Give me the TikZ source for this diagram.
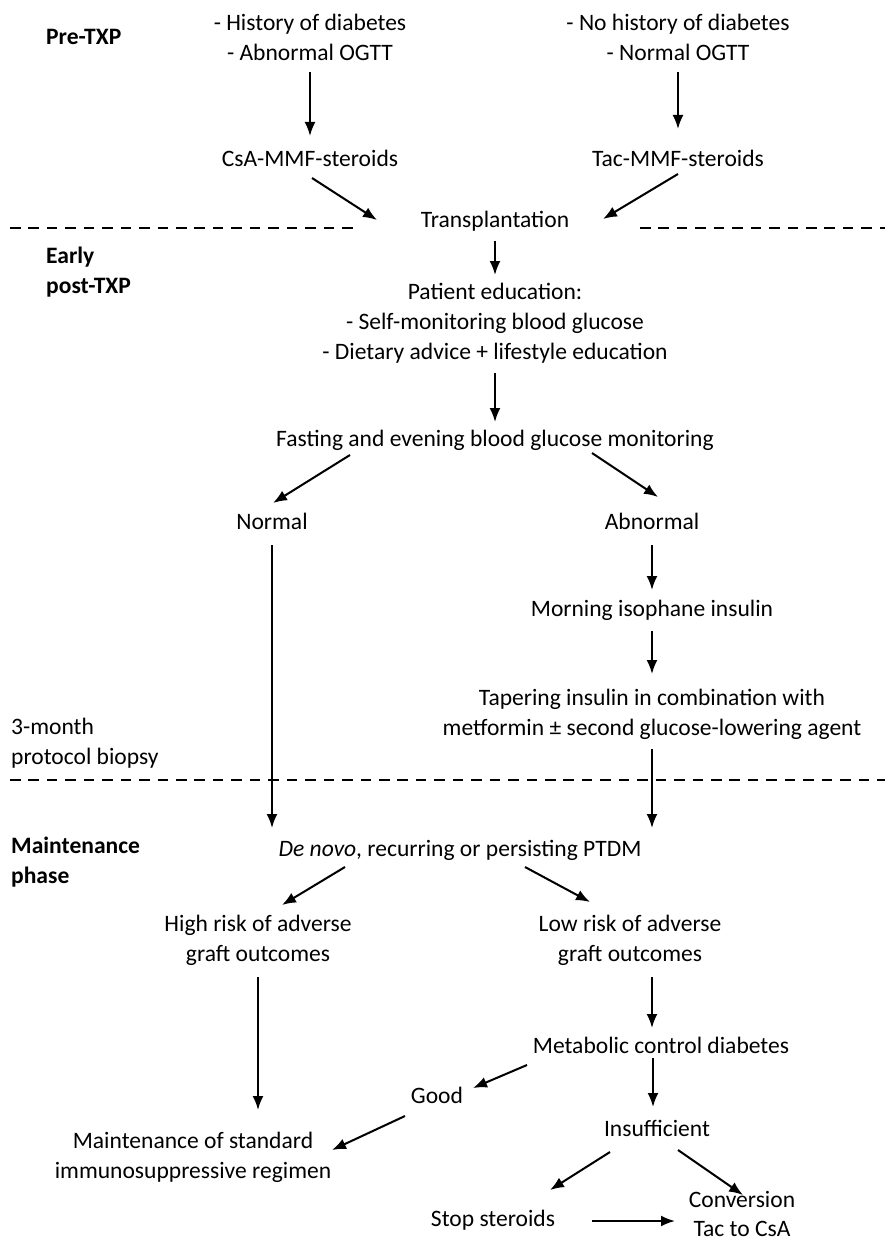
\documentclass[tikz,border=0pt]{standalone}
\usepackage{fontspec}
\setmainfont{Carlito}
\usetikzlibrary{calc,arrows.meta}

\begin{document}
\begin{tikzpicture}[x=0.02cm, y=-0.02cm,
	every node/.style={font=\fontsize{13.4}{17}\selectfont, align=center},
	phase/.style={anchor=west, align=left, font=\fontsize{13.4}{17}\selectfont\bfseries},
	arr/.style={arrows={-Latex[length=2.8mm,width=2.2mm]}, line width=1.15pt},
	sep/.style={line width=1.1pt, dash pattern=on 6pt off 4.5pt}]
	\useasboundingbox (0,0) rectangle (890,1243);
	% phases
	\node [phase] (pre) at (40,37) {Pre-TXP};
	\node [phase] (early) at (40,272) {Early\\post-TXP};
	\node [phase, font=\fontsize{13.4}{17}\selectfont] (biopsy) at (5,743) {3-month\\protocol biopsy};
	\node [phase] (maintph) at (5,862) {Maintenance\\phase};
	\draw [sep] (10,228) -- (358,228) (640,228) -- (885,228) (10,780) -- (885,780);
	% pre-TXP
	\node (hist) at (310,37) {- History of diabetes\\- Abnormal OGTT};
	\node (nohist) at (678,37) {- No history of diabetes\\- Normal OGTT};
	\node (csa) at (310,158) {CsA-MMF-steroids};
	\node (tac) at (678,158) {Tac-MMF-steroids};
	\node (txp) at (495,221) {Transplantation};
	% early post-TXP
	\node (pat) at (495,323) {Patient education:\\- Self-monitoring blood glucose\\- Dietary advice + lifestyle education};
	\node (fast) at (495,440) {Fasting and evening blood glucose monitoring};
	\node (norm) at (272,521) {Normal};
	\node (abn) at (652,521) {Abnormal};
	\node (morn) at (652,610) {Morning isophane insulin};
	\node (taper) at (652,714) {Tapering insulin in combination with\\metformin ± second glucose-lowering agent};
	% maintenance
	\node (ptdm) at (460,850) {\emph{De novo}, recurring or persisting PTDM};
	\node (high) at (258,940) {High risk of adverse\\graft outcomes};
	\node (low) at (630,940) {Low risk of adverse\\graft outcomes};
	\node (metab) at (661,1045) {Metabolic control diabetes};
	\node (good) at (437,1095) {Good};
	\node (insuf) at (657,1128) {Insufficient};
	\node (maint) at (193,1157) {Maintenance of standard\\immunosuppressive regimen};
	\node (stop) at (493,1220) {Stop steroids};
	\node (conv) at (742,1214) {Conversion\\Tac to CsA};
	% arrows
	\draw [arr] ($(hist)+(0,35)$) -- ($(csa)+(0,-22)$);
	\draw [arr] ($(nohist)+(0,35)$) -- ($(tac)+(0,-29)$);
	\draw [arr] ($(csa)+(2,20)$) -- ($(txp)+(-118,-1)$);
	\draw [arr] ($(tac)+(0,16)$) -- ($(txp)+(108,-2)$);
	\draw [arr] ($(txp)+(0,20)$) -- ($(pat)+(0,-48)$);
	\draw [arr] ($(pat)+(0,50)$) -- ($(fast)+(0,-18)$);
	\draw [arr] ($(fast)+(-145,15)$) -- ($(norm)+(1,-18)$);
	\draw [arr] ($(fast)+(97,13)$) -- ($(abn)+(6,-24)$);
	\draw [arr] ($(norm)+(0,24)$) -- ($(ptdm)+(-188,-22)$);
	\draw [arr] ($(abn)+(0,24)$) -- ($(morn)+(0,-20)$);
	\draw [arr] ($(morn)+(0,21)$) -- ($(taper)+(0,-40)$);
	\draw [arr] ($(taper)+(0,35)$) -- ($(ptdm)+(192,-22)$);
	\draw [arr] ($(ptdm)+(-115,17)$) -- ($(high)+(24,-35)$);
	\draw [arr] ($(ptdm)+(65,17)$) -- ($(low)+(-40,-38)$);
	\draw [arr] ($(high)+(0,37)$) -- ($(maint)+(65,-47)$);
	\draw [arr] ($(low)+(22,37)$) -- ($(metab)+(-9,-17)$);
	\draw [arr] ($(metab)+(-134,20)$) -- ($(good)+(36,-7)$);
	\draw [arr] ($(metab)+(-8,13)$) -- ($(insuf)+(-4,-21)$);
	\draw [arr] ($(good)+(-32,21)$) -- ($(maint)+(139,-7)$);
	\draw [arr] ($(insuf)+(-47,24)$) -- ($(stop)+(57,-30)$);
	\draw [arr] ($(insuf)+(21,22)$) -- ($(conv)+(1,-19)$);
	\draw [arr] ($(stop)+(99,1)$) -- ($(conv)+(-67,7)$);
\end{tikzpicture}
\end{document}
